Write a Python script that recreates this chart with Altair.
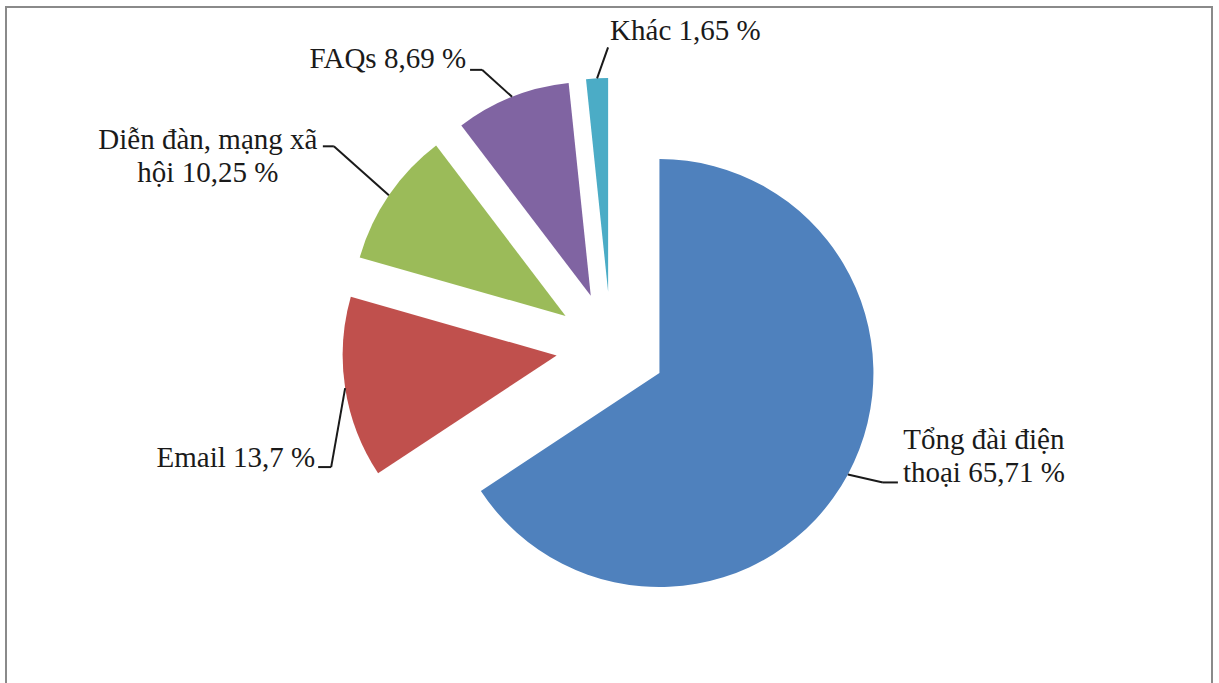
import math
import altair as alt
import pandas as pd

# ---- data ----
categories = ["Tổng đài điện thoại", "Email", "Diễn đàn, mạng xã hội", "FAQs", "Khác"]
shares = [65.71, 13.7, 10.25, 8.69, 1.65]
labels = ["Tổng đài điện\nthoại 65,71 %", "Email 13,7 %", "Diễn đàn, mạng xã\nhội 10,25 %",
          "FAQs 8,69 %", "Khác 1,65 %"]

# ---- style / layout ----
colors = ["#4F81BD", "#C0504D", "#9BBB59", "#8064A2", "#4BACC6"]
elbow_dx = [35, -14, -55, -30, 11]
elbow_dy = [8, 79, -49, -27, -31]
tail = [15, -13, -11, -12, 0]
text_dx = [86, -3, -115, -4, 2]
text_dy = [-33, 0, 3, -2, -7]
text_align = ["center", "right", "center", "right", "left"]

W, H = 1206, 676
CX, CY = 605, 340       # pie centre in view pixels
R, E = 214, 55          # radius and explosion distance
FONT = "Liberation Serif"
FS = 29

df = pd.DataFrame({
    "order": list(range(len(categories))),
    "category": categories,
    "share": shares,
    "label": labels,
    "edx": elbow_dx, "edy": elbow_dy, "tail": tail,
    "tdx": text_dx, "tdy": text_dy, "align": text_align,
})

base = alt.Chart(df).transform_window(
    cum="sum(share)", sort=[alt.SortField("order")], frame=[None, 0]
).transform_joinaggregate(total="sum(share)").transform_calculate(
    t0="(datum.cum - datum.share) / datum.total * 2 * PI",
    t1="datum.cum / datum.total * 2 * PI",
).transform_calculate(
    mid="(datum.t0 + datum.t1) / 2"
).transform_calculate(
    ax=f"{CX} + {E} * sin(datum.mid)",
    ay=f"{CY} - {E} * cos(datum.mid)",
    px=f"{CX} + {E + R} * sin(datum.mid)",
    py=f"{CY} - {E + R} * cos(datum.mid)",
).transform_calculate(
    ex="datum.px + datum.edx",
    ey="datum.py + datum.edy",
).transform_calculate(
    tx="datum.ex + datum.tail",
    lx="datum.ex + datum.tail + datum.tdx",
    ly="datum.ey + datum.tdy",
)

def X(f):
    return alt.X(f, type="quantitative", scale=None, axis=None)

def Y(f):
    return alt.Y(f, type="quantitative", scale=None, axis=None)

arcs = base.mark_arc(radius=R, strokeWidth=0).encode(
    x=X("ax"), y=Y("ay"),
    theta=alt.Theta("t0:Q", scale=None), theta2="t1:Q",
    color=alt.Color("category:N", scale=alt.Scale(domain=categories, range=colors), legend=None),
)

lead1 = base.mark_rule(color="#1a1a1a", strokeWidth=2).encode(
    x=X("px"), y=Y("py"), x2="ex:Q", y2="ey:Q"
)
lead2 = base.mark_rule(color="#1a1a1a", strokeWidth=2).encode(
    x=X("ex"), y=Y("ey"), x2="tx:Q", y2="ey:Q"
)

texts = []
for al in ["center", "right", "left"]:
    texts.append(
        base.transform_filter(alt.datum.align == al).mark_text(
            align=al, baseline="alphabetic", font=FONT, fontSize=FS,
            lineBreak="\n", lineHeight=33, color="#1a1a1a"
        ).encode(x=X("lx"), y=Y("ly"), text="label:N")
    )

frame = alt.Chart(alt.Data(values=[{"a": 1}])).mark_rect(
    filled=False, stroke="#8a8a8a", strokeWidth=2
).encode(x=alt.value(0), x2=alt.value(W), y=alt.value(0), y2=alt.value(H + 30))

chart = alt.layer(frame, arcs, lead1, lead2, *texts).properties(
    width=W, height=H,
    padding={"left": 6, "top": 7, "right": 7, "bottom": 0},
    autosize="none",
    background="white",
).configure_view(strokeWidth=0)

chart.save("out.html", embed_options={"renderer": "svg", "actions": False})
